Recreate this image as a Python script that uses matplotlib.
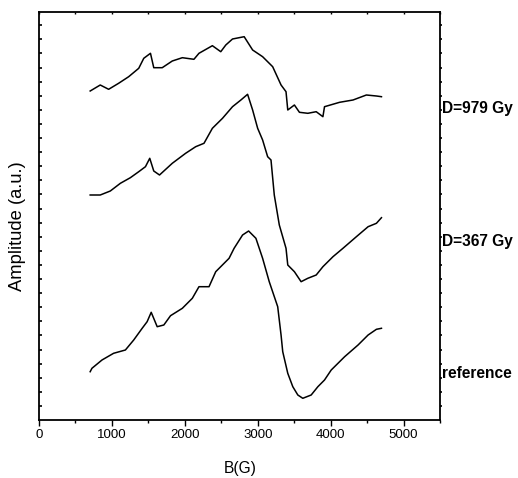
import numpy as np
import matplotlib
matplotlib.use("Agg")
import matplotlib.pyplot as plt
from matplotlib.ticker import MultipleLocator, FixedLocator

# ---- data (B in gauss, amplitude in arbitrary units) ----
b_979 = [702, 840, 955, 1092, 1230, 1368, 1437, 1529, 1574, 1690, 1828, 1966, 2125, 2194,
         2378, 2493, 2562, 2654, 2814, 2930, 3067, 3205, 3320, 3388, 3412, 3503, 3572,
         3687, 3802, 3894, 3916, 4123, 4307, 4490, 4628, 4697]
a_979 = [329, 335, 330.7, 336.7, 343.3, 351.7, 361.7, 366.7, 352.3, 352.3, 359, 362.3, 360.7,
         366.7, 374.3, 368.3, 375, 381, 383.3, 370, 363.3, 353.3, 335, 328.3, 310, 315,
         307.7, 306.7, 308.3, 303.3, 313.3, 317.7, 320, 325, 324, 323.3]

b_367 = [702, 840, 978, 1116, 1253, 1368, 1460, 1519, 1574, 1653, 1828, 2011, 2149, 2263,
         2378, 2517, 2654, 2769, 2861, 2930, 2999, 3067, 3136, 3182, 3227, 3296, 3388,
         3412, 3503, 3595, 3687, 3802, 3894, 4032, 4169, 4353, 4514, 4628, 4697]
a_367 = [225, 225, 229, 236.7, 242.3, 248.3, 253.3, 261.7, 249, 245, 256.7, 266.7, 273.3,
         276.7, 291.7, 301.7, 313.3, 320, 325.7, 310, 291.7, 280, 263.3, 260, 225, 195,
         171.7, 155, 148.3, 138.3, 141.7, 145, 153.3, 163.3, 171.7, 183.3, 193.3, 196.7, 202.3]

b_ref = [702, 726, 864, 1023, 1185, 1299, 1415, 1483, 1539, 1621, 1712, 1804, 1966, 2103,
         2194, 2332, 2424, 2607, 2676, 2792, 2875, 2975, 3067, 3158, 3274, 3320, 3343,
         3412, 3481, 3550, 3618, 3733, 3825, 3916, 4008, 4192, 4376, 4514, 4628, 4697]
a_ref = [48.3, 51.7, 60, 66.7, 70, 80, 91.7, 98.3, 107.7, 93.3, 95, 104.3, 111.7, 121.7,
         133.3, 133.3, 148.3, 161.7, 171.7, 185, 189, 181.7, 161.7, 138.3, 113.3, 85, 68.3,
         46.7, 33.3, 25, 21.7, 25, 33.3, 40, 50, 63.3, 75, 85, 90.7, 91.7]

series_labels = ["D=979 Gy", "D=367 Gy", "reference"]
x_ticks = [0, 1000, 2000, 3000, 4000, 5000]

W, H = 518, 478
fig = plt.figure(figsize=(W / 100, H / 100), dpi=100)
ax = fig.add_axes([39 / W, 1 - 420 / H, (440 - 39) / W, (420 - 12) / H])

lw = 1.1
for b, a in [(b_979, a_979), (b_367, a_367), (b_ref, a_ref)]:
    ax.plot(b, a, color="black", lw=lw)

ax.set_xlim(0, 5500)
ax.set_ylim(0, 408)

font = ["Liberation Sans", "DejaVu Sans"]

ax.xaxis.set_major_locator(FixedLocator(x_ticks))
ax.xaxis.set_minor_locator(MultipleLocator(500))
ax.set_xticklabels([str(t) for t in x_ticks], family=font, fontsize=9.5)
ax.tick_params(axis="x", which="major", direction="out", length=4, width=1.0, pad=2.5,
               bottom=True, top=False)
ax.tick_params(axis="x", which="minor", direction="out", length=2.5, width=1.0,
               bottom=True, top=False)

yt = np.arange(1, 29) * 14.1
ax.yaxis.set_major_locator(FixedLocator(yt))
ax.set_yticklabels([])
ax.tick_params(axis="y", which="major", direction="in", length=2, width=1.2,
               left=True, right=False, labelleft=False)

# top ticks inward at every 500
secx = ax.secondary_xaxis("top")
secx.xaxis.set_major_locator(MultipleLocator(500))
secx.tick_params(direction="in", length=1.5, width=1.0, labeltop=False)
secx.spines["top"].set_visible(False)

# right ticks outward small
secy = ax.secondary_yaxis("right")
secy.yaxis.set_major_locator(FixedLocator(yt))
secy.tick_params(direction="out", length=1.5, width=1.2, labelright=False)
secy.spines["right"].set_visible(False)

for s in ax.spines.values():
    s.set_linewidth(1.3)

fig.text(240 / W, 1 - 468 / H, "B(G)", ha="center", va="center",
         family=font, fontsize=11.2)
fig.text(18 / W, 1 - 226 / H, "Amplitude (a.u.)", ha="center", va="center",
         rotation=90, family=font, fontsize=13.2)

label_y = [113, 246, 378]
for lab, py in zip(series_labels, label_y):
    fig.text(442 / W, 1 - py / H, lab, ha="left", va="baseline",
             family=font, fontweight="bold", fontsize=11.2)

fig.savefig("out.png", dpi=100)
